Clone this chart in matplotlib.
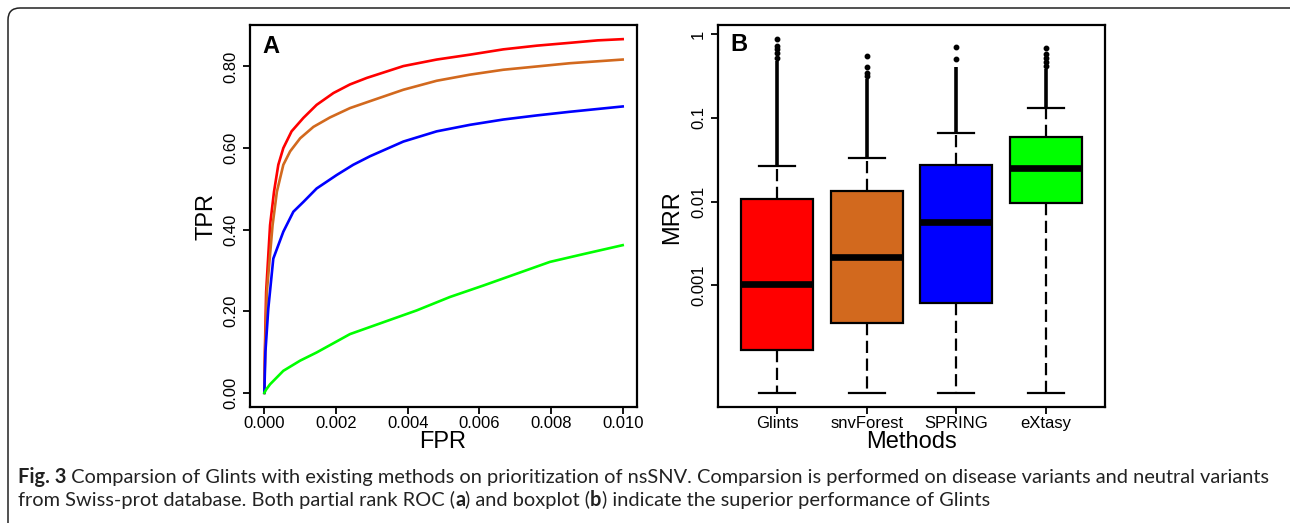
import numpy as np
import matplotlib
matplotlib.use("Agg")
import matplotlib.pyplot as plt
from matplotlib.patches import FancyBboxPatch
from matplotlib.transforms import IdentityTransform
from matplotlib.ticker import FixedLocator, NullLocator

W, H = 1290, 523
plt.rcParams['font.family'] = ['Liberation Sans', 'DejaVu Sans']

methods = ["Glints", "snvForest", "SPRING", "eXtasy"]
colors  = ["#FF0000", "#D2691E", "#0000FF", "#00FF00"]

# ---- panel A: partial ROC curves (FPR <= 0.01)
glints_fpr = [0, 0.00002, 0.00005, 0.00016, 0.00027, 0.00039, 0.00053, 0.00076, 0.00109,
              0.00146, 0.00193, 0.00239, 0.00286, 0.00388, 0.00481, 0.00574, 0.00667,
              0.00760, 0.00853, 0.00930, 0.01]
glints_tpr = [0, 0.12, 0.247, 0.411, 0.493, 0.559, 0.600, 0.641, 0.674,
              0.706, 0.735, 0.756, 0.772, 0.801, 0.817, 0.829, 0.842,
              0.851, 0.858, 0.864, 0.867]

snvforest_fpr = [0, 0.00002, 0.00007, 0.00023, 0.00035, 0.00053, 0.00072, 0.00100, 0.00137,
                 0.00183, 0.00239, 0.00295, 0.00388, 0.00481, 0.00574, 0.00667, 0.00760,
                 0.00853, 0.01]
snvforest_tpr = [0, 0.10, 0.247, 0.411, 0.493, 0.559, 0.592, 0.624, 0.652,
                 0.675, 0.698, 0.715, 0.743, 0.765, 0.780, 0.792, 0.800,
                 0.808, 0.817]

spring_fpr = [0, 0.00003, 0.00011, 0.00025, 0.00053, 0.00081, 0.00109, 0.00146, 0.00202,
              0.00248, 0.00295, 0.00388, 0.00481, 0.00574, 0.00667, 0.00760, 0.00853, 0.01]
spring_tpr = [0, 0.10, 0.206, 0.329, 0.395, 0.444, 0.468, 0.501, 0.534,
              0.559, 0.580, 0.616, 0.641, 0.657, 0.670, 0.680, 0.689, 0.702]

extasy_fpr = [0, 0.00005, 0.00016, 0.00053, 0.00100, 0.00146, 0.00239, 0.00332, 0.00425,
              0.00518, 0.00611, 0.00704, 0.00797, 0.00890, 0.01]
extasy_tpr = [0, 0.008, 0.021, 0.054, 0.079, 0.099, 0.144, 0.173, 0.202,
              0.235, 0.263, 0.292, 0.321, 0.340, 0.362]

roc_fpr = [glints_fpr, snvforest_fpr, spring_fpr, extasy_fpr]
roc_tpr = [glints_tpr, snvforest_tpr, spring_tpr, extasy_tpr]

# ---- panel B: MRR boxplot summary (log scale)
mrr_whislo = [5.2e-5, 5.2e-5, 5.2e-5, 5.2e-5]
mrr_q1     = [1.69e-4, 3.56e-4, 6.1e-4, 0.0097]
mrr_med    = [1.05e-3, 2.18e-3, 5.75e-3, 0.0251]
mrr_q3     = [0.0108, 0.0135, 0.0272, 0.0586]
mrr_whishi = [0.0268, 0.0334, 0.066, 0.132]
# sparse outliers and the top of the dense outlier column
mrr_outliers = [[0.87, 0.72, 0.66, 0.60, 0.525],
                [0.55, 0.40, 0.34, 0.32],
                [0.70, 0.51],
                [0.68, 0.575, 0.525, 0.47, 0.42]]
mrr_dense_top = [0.48, 0.29, 0.40, 0.38]

caption1 = [("Fig. 3", True),
            (" Comparsion of Glints with existing methods on prioritization of nsSNV. "
             "Comparsion is performed on disease variants and neutral variants", False)]
caption2 = [("from Swiss-prot database. Both partial rank ROC (", False), ("a", True),
            (") and boxplot (", False), ("b", True),
            (") indicate the superior performance of Glints", False)]

fig = plt.figure(figsize=(W / 100, H / 100), dpi=100)

# rounded frame around the figure block
frame = FancyBboxPatch((8, -30), W + 40, H - 8 + 30, boxstyle="round,pad=0,rounding_size=12",
                       transform=IdentityTransform(), fill=False, edgecolor="#222222",
                       linewidth=1.1)
fig.patches.append(frame)

ax1 = fig.add_axes([250 / W, 1 - 407 / H, 387 / W, 382 / H])
ax2 = fig.add_axes([718 / W, 1 - 407 / H, 387 / W, 382 / H])

for i in range(len(methods)):
    ax1.plot(roc_fpr[i], roc_tpr[i], color=colors[i], linewidth=1.9)

xmax = max(max(f) for f in roc_fpr)
ymax = max(max(t) for t in roc_tpr)
ax1.set_xlim(-0.04 * xmax, 1.04 * xmax)
ax1.set_ylim(-0.04 * ymax, 1.04 * ymax)
ax1.set_xticks(np.arange(0, 0.0101, 0.002))
ax1.set_xticklabels(["%.3f" % v for v in np.arange(0, 0.0101, 0.002)])
ax1.set_yticks(np.arange(0, 0.81, 0.2))
ax1.set_yticklabels(["%.2f" % v for v in np.arange(0, 0.81, 0.2)], rotation=90, va="center")
ax1.text(0.031, 0.975, "A", transform=ax1.transAxes, ha="left", va="top",
         fontsize=17, fontweight="bold")

stats = []
for i in range(len(methods)):
    stats.append(dict(med=mrr_med[i], q1=mrr_q1[i], q3=mrr_q3[i], whislo=mrr_whislo[i],
                      whishi=mrr_whishi[i], fliers=mrr_outliers[i]))
pos = np.arange(1, len(methods) + 1)
bp = ax2.bxp(stats, positions=pos, widths=0.8, patch_artist=True, capwidths=0.4,
             boxprops=dict(linewidth=1.6, edgecolor="black"),
             medianprops=dict(color="black", linewidth=4.8, solid_capstyle="butt"),
             whiskerprops=dict(linestyle=(0, (5.5, 2.5)), linewidth=1.6, color="black"),
             capprops=dict(linewidth=1.6, color="black"),
             flierprops=dict(marker="o", markersize=3.2, markerfacecolor="black",
                             markeredgecolor="black", linestyle="none"))
for patch, c in zip(bp["boxes"], colors):
    patch.set_facecolor(c)
ax2.vlines(pos, mrr_whishi, mrr_dense_top, color="black", linewidth=2.6)

ax2.set_yscale("log")
lo = np.log10(min(mrr_whislo))
hi = np.log10(max(max(o) for o in mrr_outliers))
pad = 0.04 * (hi - lo)
ax2.set_ylim(10 ** (lo - pad), 10 ** (hi + pad))
ax2.set_xlim(0.5 - 0.16, len(methods) + 0.5 + 0.16)
ax2.yaxis.set_major_locator(FixedLocator([1, 0.1, 0.01, 0.001]))
ax2.yaxis.set_minor_locator(NullLocator())
ax2.set_yticklabels(["1", "0.1", "0.01", "0.001"], rotation=90, va="center")
ax2.set_xticks(pos)
ax2.set_xticklabels(methods)
ax2.text(0.033, 0.978, "B", transform=ax2.transAxes, ha="left", va="top",
         fontsize=17, fontweight="bold")

for ax in (ax1, ax2):
    for s in ax.spines.values():
        s.set_linewidth(1.6)
    ax.tick_params(axis="both", direction="out", length=5, width=1.3, labelsize=12,
                   colors="black")
    ax.tick_params(axis="x", pad=1.5)
    ax.tick_params(axis="y", pad=3.5)

fig.text(206.7 / W, 1 - 216.7 / H, "TPR", rotation=90, ha="center", va="center", fontsize=17)
fig.text(672 / W, 1 - 216.7 / H, "MRR", rotation=90, ha="center", va="center", fontsize=17)
fig.text(443 / W, 1 - 441.7 / H, "FPR", ha="center", va="center", fontsize=17)
fig.text(911.7 / W, 1 - 441.7 / H, "Methods", ha="center", va="center", fontsize=17)

# caption with bold runs, sized so the first line spans the frame width
cap_font = ["Liberation Sans Narrow", "Lato", "DejaVu Sans"]
renderer = fig.canvas.get_renderer()


def draw_runs(runs, x_px, y_px, size):
    x = x_px
    made = []
    for txt, bold in runs:
        t = fig.text(x / W, 1 - y_px / H, txt, fontsize=size, family=cap_font,
                     fontweight="bold" if bold else "normal", ha="left", va="center",
                     color="#222222")
        x += t.get_window_extent(renderer).width
        made.append(t)
    return made, x - x_px


tmp, width = draw_runs(caption1, 18, 477, 12)
for t in tmp:
    t.remove()
size = 12 * (1265 - 18) / width
draw_runs(caption1, 18, 477, size)
draw_runs(caption2, 18, 500, size)

fig.savefig("out.png", dpi=100)
